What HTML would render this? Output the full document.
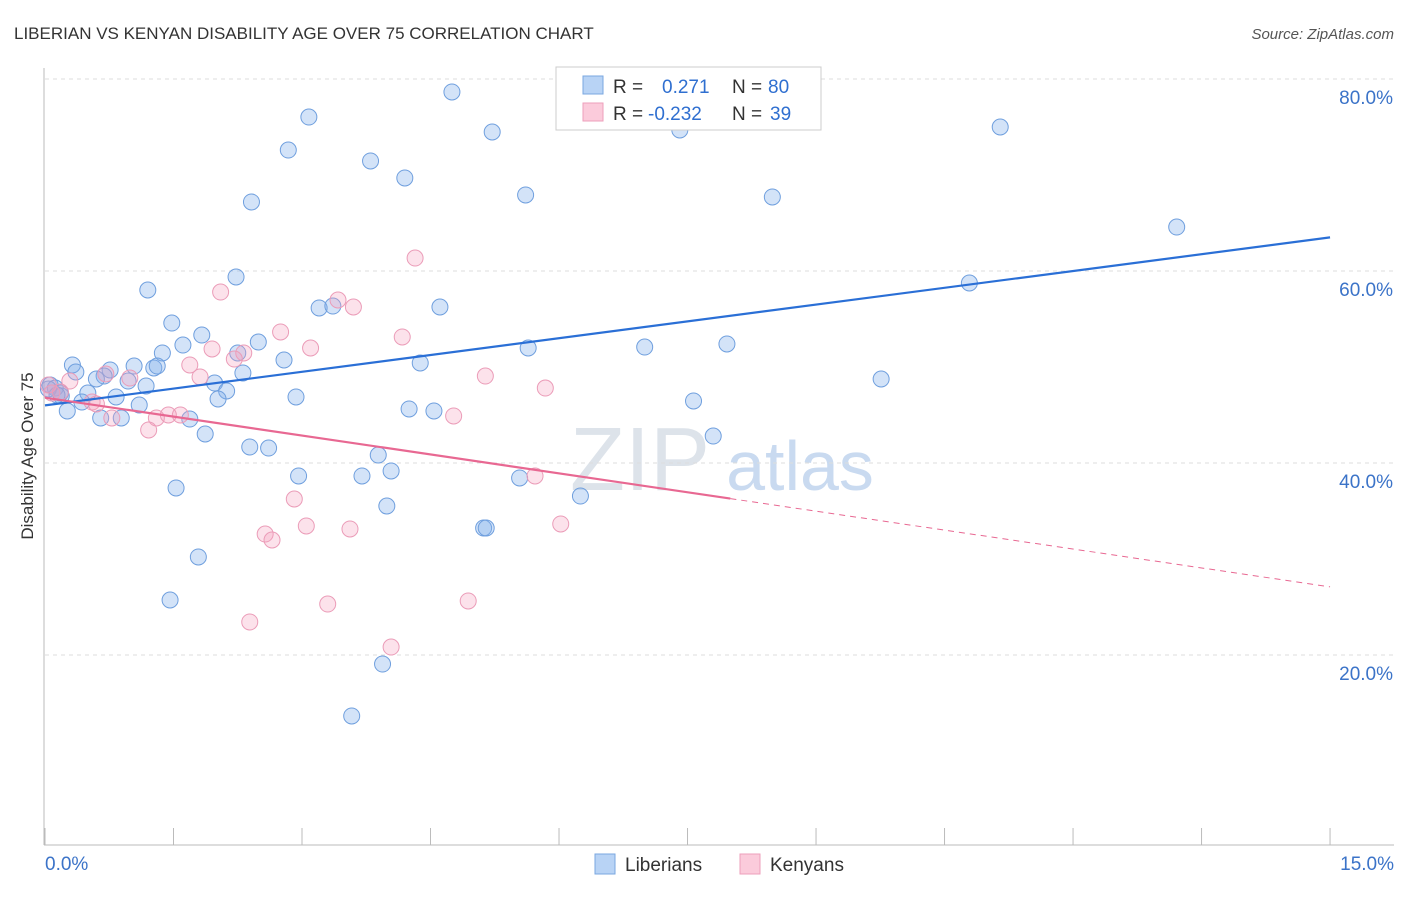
<!DOCTYPE html>
<html><head><meta charset="utf-8"><style>
body{margin:0;background:#fff;font-family:"Liberation Sans",sans-serif;}
svg text{font-family:"Liberation Sans",sans-serif;}
</style></head><body>
<svg id="chart" width="1406" height="892">
<text x="14" y="39" font-size="17" fill="#333">LIBERIAN VS KENYAN DISABILITY AGE OVER 75 CORRELATION CHART</text>
<text x="1394" y="39" font-size="15" fill="#555" font-style="italic" text-anchor="end">Source: ZipAtlas.com</text>
<text x="33" y="456" font-size="17" fill="#333" text-anchor="middle" transform="rotate(-90 33 456)">Disability Age Over 75</text>
<text x="640" y="490" font-size="90" fill="#dde3ea" font-family="Liberation Serif" text-anchor="middle">ZIP</text>
<text x="800" y="490" font-size="70" fill="#c9daf0" text-anchor="middle">atlas</text>
<g id="grid"></g><g id="axes"></g><g id="marks"></g>
<g>
<rect x="556" y="67" width="265" height="63" fill="#fff" stroke="#ccc"/>
<rect x="583" y="76" width="20" height="18" fill="#b8d3f5" stroke="#7aa7e0"/>
<rect x="583" y="103" width="20" height="18" fill="#fbcbdb" stroke="#ee9fbb"/>
<text x="613" y="93" font-size="19" fill="#333">R = </text><text x="662" y="93" font-size="19" fill="#2f6fd0">0.271</text>
<text x="732" y="93" font-size="19" fill="#333">N = </text><text x="768" y="93" font-size="19" fill="#2f6fd0">80</text>
<text x="613" y="120" font-size="19" fill="#333">R = </text><text x="648" y="120" font-size="19" fill="#2f6fd0">-0.232</text>
<text x="732" y="120" font-size="19" fill="#333">N = </text><text x="770" y="120" font-size="19" fill="#2f6fd0">39</text>
</g>
<g>
<rect x="595" y="854" width="20" height="20" fill="#b8d3f5" stroke="#7aa7e0"/>
<text x="625" y="871" font-size="19" fill="#333">Liberians</text>
<rect x="740" y="854" width="20" height="20" fill="#fbcbdb" stroke="#ee9fbb"/>
<text x="770" y="871" font-size="19" fill="#333">Kenyans</text>
</g>
</svg>
<script>
const blueX=[4.75,3.08,5.22,7.41,11.15,2.84,3.80,4.20,2.41,5.61,8.49,13.21,2.23,10.79,1.20,3.20,3.36,4.61,1.48,1.83,1.61,2.49,5.64,7.00,7.96,1.37,2.25,2.79,4.38,0.32,1.04,1.27,1.31,0.36,0.76,2.31,0.69,0.97,0.60,1.18,1.98,0.06,0.12,0.50,2.12,0.83,0.19,9.76,2.93,2.02,0.43,1.10,0.26,0.65,0.89,1.69,4.25,4.54,7.57,1.87,7.80,2.39,2.61,3.89,4.04,2.96,3.70,5.54,1.53,6.25,3.99,5.12,5.15,1.79,1.46,3.94,3.58,0.18,0.04,0.14];
const blueY=[78.65,76.04,74.48,74.69,75.0,72.6,71.46,69.69,67.19,67.92,67.71,64.58,59.38,58.75,58.02,56.15,56.35,56.25,54.58,53.33,52.29,52.6,51.98,52.08,52.4,51.46,51.46,50.73,50.42,50.21,50.1,49.9,50.1,49.48,49.69,49.38,49.06,48.54,48.75,48.02,48.33,48.13,47.81,47.29,47.5,46.88,46.98,48.75,46.88,46.67,46.35,46.04,45.42,44.69,44.69,44.58,45.63,45.42,46.46,43.02,42.81,41.67,41.56,40.83,39.17,38.65,38.65,38.44,37.4,36.56,35.52,33.23,33.23,30.21,25.73,19.06,13.65,47.29,47.71,47.08];
const pinkX=[4.32,2.05,3.42,3.60,2.75,4.17,1.95,3.10,2.32,2.21,1.69,1.81,0.71,0.99,5.14,5.84,0.29,0.04,0.08,0.55,0.78,1.30,1.44,1.58,1.21,4.77,2.91,5.72,3.05,2.57,2.65,3.56,6.02,3.30,4.94,2.39,4.04,0.18,0.60];
const pinkY=[61.35,57.81,56.98,56.25,53.65,53.13,51.88,51.98,51.46,50.83,50.21,48.96,49.27,48.85,49.06,47.81,48.54,48.13,47.29,46.35,44.69,44.69,45.0,45.0,43.44,44.9,36.25,38.65,33.44,32.6,31.98,33.13,33.65,25.31,25.63,23.44,20.83,47.4,46.15];
const blueTrend=[46.0,63.5];const pinkTrend=[46.8,27.1];
const xTicks=[0,1.5,3,4.5,6,7.5,9,10.5,12,13.5,15];const yTicks=[20,40,60,80];
const X=v=>45+v*85.67, Y=v=>847-v*9.6, NS="http://www.w3.org/2000/svg";
function mk(p,t,a){const e=document.createElementNS(NS,t);for(const k in a)e.setAttribute(k,a[k]);p.appendChild(e);return e;}
const grid=document.getElementById('grid'),axes=document.getElementById('axes'),marks=document.getElementById('marks');
yTicks.forEach(t=>{const l=mk(grid,'line',{x1:45,x2:1394,y1:Y(t),y2:Y(t),stroke:'#ddd','stroke-dasharray':'4,4'});


const tx=mk(grid,'text',{x:1393,y:Y(t)+25,'font-size':19,fill:'#3b73c8','text-anchor':'end'});tx.textContent=t.toFixed(1)+'%';

});
const al=mk(axes,'line',{x1:44,x2:44,y1:68,y2:845,stroke:'#bbb'});


const bl=mk(axes,'line',{x1:44,x2:1394,y1:845,y2:845,stroke:'#bbb'});


xTicks.forEach(t=>{const l=mk(axes,'line',{x1:X(t),x2:X(t),y1:828,y2:845,stroke:'#bbb'});

});
[[0,'0.0%','start',45],[15,'15.0%','end',1394]].forEach(d=>{const tx=mk(axes,'text',{x:d[3],y:870,'font-size':19,fill:'#3b73c8','text-anchor':d[2]});tx.textContent=d[1];

});
blueX.forEach((x,i)=>{const c=mk(marks,'circle',{cx:X(x),cy:Y(blueY[i]),r:8,fill:'rgba(130,175,235,0.35)',stroke:'#6f9fde','stroke-width':1});

});
pinkX.forEach((x,i)=>{const c=mk(marks,'circle',{cx:X(x),cy:Y(pinkY[i]),r:8,fill:'rgba(245,160,190,0.3)',stroke:'#eb9cb8','stroke-width':1});

});
const bt=mk(marks,'line',{x1:X(0),y1:Y(blueTrend[0]),x2:X(15),y2:Y(blueTrend[1]),stroke:'#2a6fd6','stroke-width':2.2});


const pm=pinkTrend[0]+(pinkTrend[1]-pinkTrend[0])*8/15;
const pt=mk(marks,'line',{x1:X(0),y1:Y(pinkTrend[0]),x2:X(8),y2:Y(pm),stroke:'#e86892','stroke-width':2.2});


const pd=mk(marks,'line',{x1:X(8),y1:Y(pm),x2:X(15),y2:Y(pinkTrend[1]),stroke:'#e86892','stroke-width':1,'stroke-dasharray':'6,5'});


</script>
</body></html>
